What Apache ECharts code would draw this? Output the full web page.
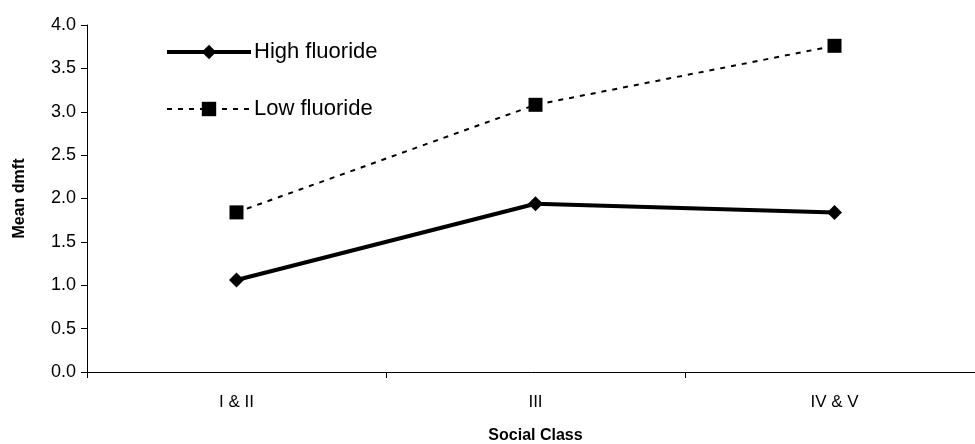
<!DOCTYPE html>
<html>
<head>
<meta charset="utf-8">
<script src="https://cdn.jsdelivr.net/npm/echarts@6/dist/echarts.min.js"></script>
<style>
  html, body { margin: 0; padding: 0; background: #fff; }
  #chart { width: 975px; height: 444px; }
</style>
</head>
<body>
<div id="chart"></div>
<script>
// data
var categories = ["I & II", "III", "IV & V"];
var highFluoride = [1.06, 1.94, 1.84];
var lowFluoride = [1.84, 3.08, 3.76];
var seriesNames = ["High fluoride", "Low fluoride"];

var chart = echarts.init(document.getElementById("chart"));
var font = "Arial, 'Liberation Sans', sans-serif";

var option = {
  backgroundColor: "#fff",
  animation: false,
  grid: { left: 87, width: 897, top: 25, bottom: 72, containLabel: false, outerBoundsMode: "none" },
  legend: {
    orient: "vertical",
    left: 165,
    top: 41,
    padding: 0,
    itemWidth: 84,
    itemHeight: 18,
    itemGap: 35,
    textStyle: { fontFamily: font, fontSize: 22, color: "#000", padding: [0, 0, 0, -2] },
    data: [
      { name: seriesNames[0], lineStyle: { width: 4, color: "#000" } },
      { name: seriesNames[1], lineStyle: { width: 2, color: "#000", type: [5, 6] } }
    ]
  },
  xAxis: {
    type: "category",
    data: categories,
    boundaryGap: true,
    name: "Social Class",
    nameLocation: "middle",
    nameGap: 56,
    nameTextStyle: { fontFamily: font, fontSize: 16, fontWeight: "bold", color: "#000" },
    axisLine: { lineStyle: { color: "#000", width: 1 } },
    axisTick: { show: true, length: 6, lineStyle: { color: "#000" } },
    axisLabel: { fontFamily: font, fontSize: 17, color: "#000", margin: 22 }
  },
  yAxis: {
    type: "value",
    min: 0,
    max: 4,
    interval: 0.5,
    name: "Mean dmft",
    nameLocation: "middle",
    nameGap: 59,
    nameTextStyle: { fontFamily: font, fontSize: 16, fontWeight: "bold", color: "#000" },
    axisLine: { show: true, lineStyle: { color: "#000", width: 1 } },
    axisTick: { show: true, length: 6, lineStyle: { color: "#000" } },
    splitLine: { show: false },
    axisLabel: {
      fontFamily: font, fontSize: 18, color: "#000", margin: 11,
      formatter: function (v) { return v.toFixed(1); }
    }
  },
  series: [
    {
      name: seriesNames[0],
      type: "line",
      data: highFluoride,
      symbol: "diamond",
      symbolSize: 15,
      itemStyle: { color: "#000" },
      lineStyle: { color: "#000", width: 4 }
    },
    {
      name: seriesNames[1],
      type: "line",
      data: lowFluoride,
      symbol: "rect",
      symbolSize: 14,
      itemStyle: { color: "#000" },
      lineStyle: { color: "#000", width: 2, type: [5, 6] }
    }
  ]
};

chart.setOption(option);
</script>
</body>
</html>
